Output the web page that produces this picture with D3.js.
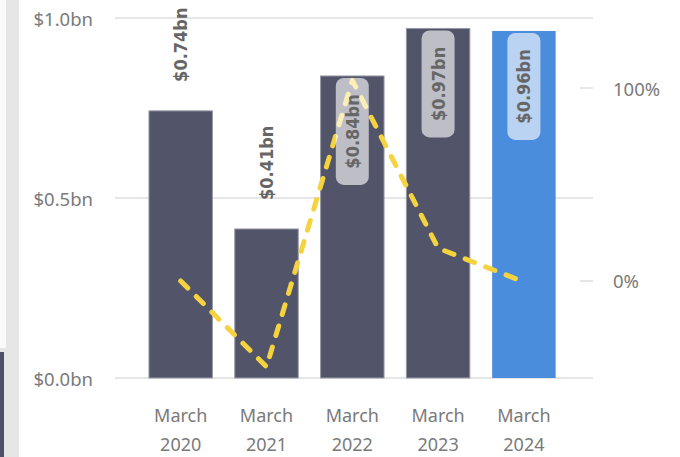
<!DOCTYPE html>
<html><head><meta charset="utf-8">
<script src="https://cdn.jsdelivr.net/npm/d3@7"></script>
<style>body{margin:0;background:#fff}svg{display:block}</style>
</head><body><svg id="c" width="680" height="457"></svg>
<script>
const categories = ["March 2020","March 2021","March 2022","March 2023","March 2024"];
const revenue = [0.742, 0.414, 0.839, 0.971, 0.964];
const growth = [0.0, -0.445, 1.04, 0.17, -0.005];
const leftTicks = [0, 0.5, 1.0];
const rightTicks = [0, 1.0];
const barColors = ["#52546a","#52546a","#52546a","#52546a","#4a8ddc"];
const labelInside = [false,false,true,true,true];

const svg = d3.select("#c");
// left panel strip
svg.append("rect").attr("x",0).attr("y",0).attr("width",19).attr("height",457).attr("fill","#e6e6e6");
svg.append("rect").attr("x",0).attr("y",0).attr("width",6).attr("height",348).attr("fill","#fafafa");
svg.append("rect").attr("x",0).attr("y",352).attr("width",4).attr("height",105).attr("fill","#4f5068");

const x = d3.scaleBand().domain(categories).range([137.8,566.8]).paddingInner(0.26).paddingOuter(0.13);
const y = d3.scaleLinear().domain([0,1]).range([378,18]);
const y2 = d3.scaleLinear().domain([-0.503,1.363]).range([378,18]);
const axisFont = "'Noto Sans','Open Sans',sans-serif";
const axisColor = "#7a7a7a";

// gridlines
svg.append("g").selectAll("line").data(leftTicks).join("line")
  .attr("x1",115).attr("x2",593).attr("y1",d=>y(d)).attr("y2",d=>y(d))
  .attr("stroke","#e6e6e6").attr("stroke-width",2);
svg.append("g").selectAll("text").data(leftTicks).join("text")
  .attr("x",93).attr("y",d=>y(d)).attr("text-anchor","end").attr("dominant-baseline","central")
  .attr("font-family",axisFont).attr("font-size",18.5).attr("fill",axisColor)
  .text(d=>"$"+d3.format(".1f")(d)+"bn");

// right axis
svg.append("g").selectAll("line").data(rightTicks).join("line")
  .attr("x1",580).attr("x2",593).attr("y1",d=>y2(d)).attr("y2",d=>y2(d))
  .attr("stroke","#e6e6e6").attr("stroke-width",2);
svg.append("g").selectAll("text").data(rightTicks).join("text")
  .attr("x",613).attr("y",d=>y2(d)).attr("dominant-baseline","central")
  .attr("font-family",axisFont).attr("font-size",18.5).attr("fill",axisColor)
  .text(d=>d3.format(".0%")(d));

// bars
svg.append("g").selectAll("rect").data(categories).join("rect")
  .attr("x",d=>x(d)).attr("width",x.bandwidth())
  .attr("y",(d,i)=>y(revenue[i])).attr("height",(d,i)=>y(0)-y(revenue[i]))
  .attr("fill",(d,i)=>barColors[i])
  .attr("stroke",(d,i)=>i<4?"#9a9aa6":"none").attr("stroke-width",1);

// x labels
const xl = svg.append("g").selectAll("text").data(categories).join("text")
  .attr("x",d=>x(d)+x.bandwidth()/2).attr("text-anchor","middle")
  .attr("font-family",axisFont).attr("font-size",18).attr("fill",axisColor);
xl.append("tspan").attr("x",d=>x(d)+x.bandwidth()/2).attr("y",422).text(d=>d.split(" ")[0]);
xl.append("tspan").attr("x",d=>x(d)+x.bandwidth()/2).attr("y",451).text(d=>d.split(" ")[1]);

// growth line
const line = d3.line().x((d,i)=>x(categories[i])+x.bandwidth()/2).y(d=>y2(d));
svg.append("path").datum(growth).attr("d",line).attr("fill","none")
  .attr("stroke","#f5d33f").attr("stroke-width",5).attr("stroke-dasharray","10,12")
  .attr("stroke-linecap","round").attr("stroke-linejoin","round");

// data labels
const lblFont = "'DejaVu Sans Condensed','Liberation Sans Narrow',sans-serif";
categories.forEach((c,i)=>{
  const cx = x(c)+x.bandwidth()/2;
  const top = y(revenue[i]);
  const txt = "$"+d3.format(".2f")(revenue[i])+"bn";
  if(labelInside[i]){
    svg.append("rect").attr("x",cx-16.5).attr("y",top+2).attr("width",33).attr("height",107)
      .attr("rx",8).attr("fill","#fff").attr("fill-opacity",0.62);
    svg.append("text").attr("transform",`translate(${cx},${top+2+53.5}) rotate(-90)`)
      .attr("text-anchor","middle").attr("dominant-baseline","central")
      .attr("font-family",lblFont).attr("font-weight","bold").attr("font-size",18)
      .attr("fill","#666").text(txt);
  } else {
    svg.append("text").attr("transform",`translate(${cx},${top-29}) rotate(-90)`)
      .attr("text-anchor","start").attr("dominant-baseline","central")
      .attr("font-family",lblFont).attr("font-weight","bold").attr("font-size",18)
      .attr("fill","#666").text(txt);
  }
});
</script></body></html>
